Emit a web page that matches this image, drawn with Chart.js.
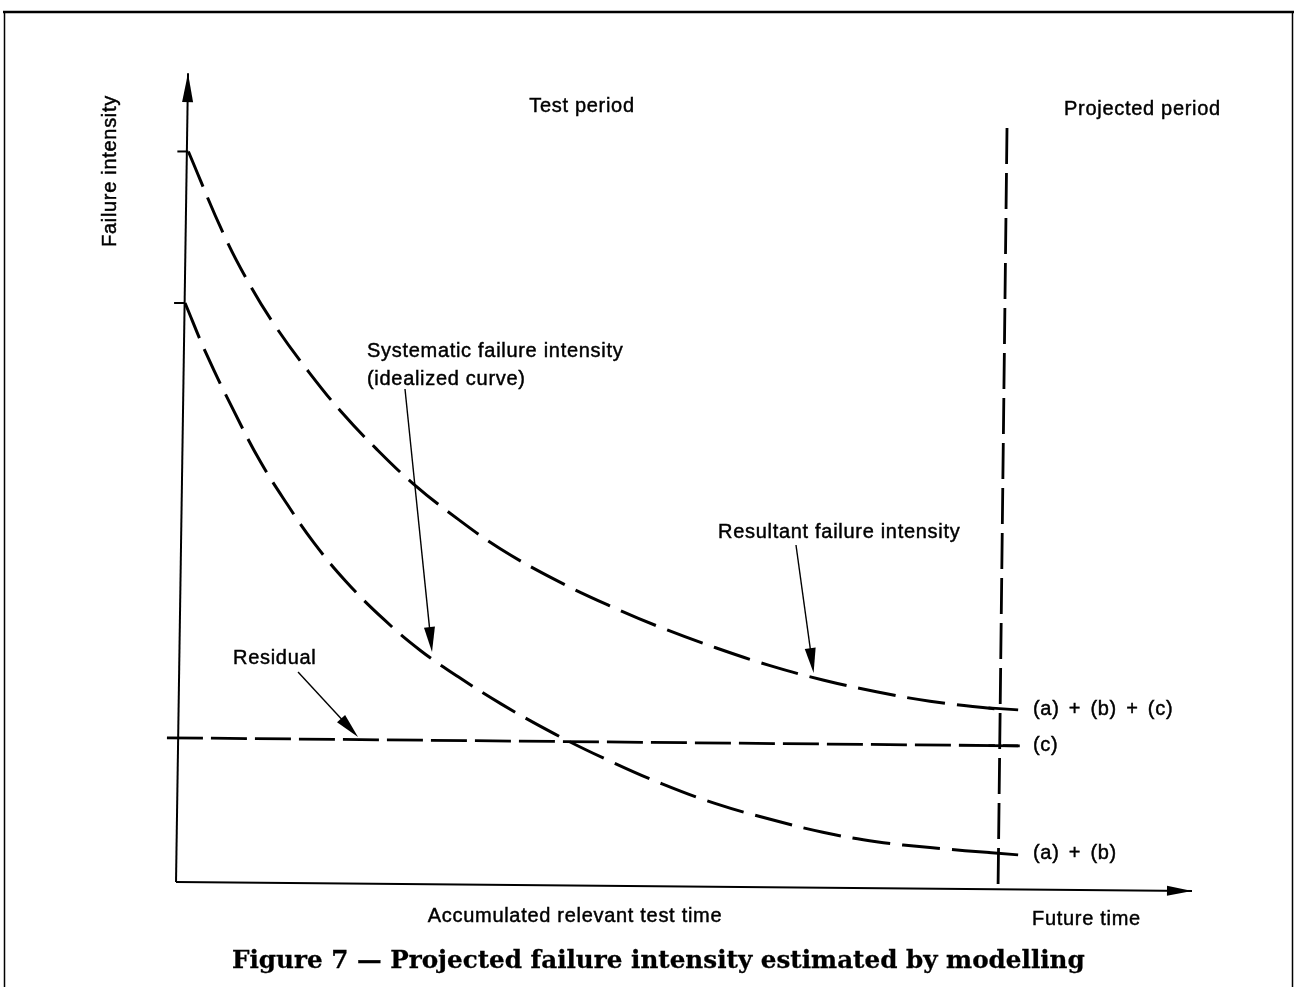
<!DOCTYPE html>
<html><head><meta charset="utf-8">
<script src="https://cdn.jsdelivr.net/npm/chart.js@4.4.1/dist/chart.umd.min.js"></script>
<style>html,body{margin:0;padding:0;background:#fff;overflow:hidden}canvas{display:block}</style>
</head><body>
<canvas id="c" width="1297" height="987"></canvas>
<script>
// ---- data (time units: 0 = start of test, 10 = end of test period; intensity arbitrary units) ----
const resultantTime      = [0.15,0.57,0.89,1.22,1.61,2.00,2.42,2.88,3.43,3.94,4.60,5.25,5.90,6.55,7.20,7.85,8.50,9.15,10.00,10.24];
const resultantIntensity = [9.98,8.87,8.17,7.57,6.97,6.43,5.93,5.44,4.95,4.55,4.13,3.78,3.47,3.20,2.96,2.76,2.60,2.47,2.36,2.35];
const systematicTime      = [0.11,0.37,0.70,1.02,1.35,1.67,2.06,2.52,2.97,3.43,3.95,4.60,5.25,5.90,6.55,7.20,7.85,8.50,9.15,10.00,10.22];
const systematicIntensity = [7.91,7.21,6.44,5.75,5.16,4.64,4.11,3.59,3.16,2.80,2.43,2.02,1.66,1.34,1.07,0.86,0.68,0.55,0.47,0.39,0.37];
const residualTime      = [-0.11, 10.24];
const residualIntensity = [1.97, 1.86];
const projectionTime      = [10.085, 9.976];
const projectionIntensity = [10.30, -0.12];
const yAxisTime = [0, 0.146];
const yAxisIntensity = [0, 11.05];
const xAxisTime = [0, 12.33];
const xAxisIntensity = [0, -0.123];
const endLabels = ['(a) + (b) + (c)', '(c)', '(a) + (b)'];

const pts = (xs, ys) => xs.map((x, i) => ({x, y: ys[i]}));
function interp(xs, ys, x) {
  for (let i = 1; i < xs.length; i++) {
    if (x <= xs[i]) { const t = (x - xs[i-1]) / (xs[i] - xs[i-1]); return ys[i-1] + t * (ys[i] - ys[i-1]); }
  }
  return ys[ys.length - 1];
}

const FONT = '"Liberation Sans", Arial, Helvetica, sans-serif';

const texts = [
  {t: 'Test period', x: 4.927, y: 10.519, align: 'center'},
  {t: 'Projected period', x: 10.777, y: 10.478, align: 'left'},
  {t: 'Systematic failure intensity', x: 2.318, y: 7.172, align: 'left'},
  {t: '(idealized curve)', x: 2.318, y: 6.790, align: 'left'},
  {t: 'Resultant failure intensity', x: 6.578, y: 4.699, align: 'left'},
  {t: 'Residual', x: 0.692, y: 2.978, align: 'left'},
  {t: endLabels[0], x: 10.40, y: 2.281, align: 'left', ws: 3},
  {t: endLabels[1], x: 10.40, y: 1.790, align: 'left', ws: 3},
  {t: endLabels[2], x: 10.40, y: 0.314, align: 'left', ws: 3},
  {t: 'Accumulated relevant test time', x: 4.842, y: -0.546, align: 'center'},
  {t: 'Future time', x: 10.388, y: -0.587, align: 'left'}
];
const callouts = [
  {from: [2.779, 6.735], to: [3.107, 3.142]},
  {from: [7.524, 4.604], to: [7.738, 2.855]},
  {from: [1.481, 2.869], to: [2.209, 1.981]}
];

function arrowHead(ctx, fx, fy, tx, ty, len, hw) {
  const a = Math.atan2(ty - fy, tx - fx);
  const bx = tx - len * Math.cos(a), by = ty - len * Math.sin(a);
  ctx.beginPath();
  ctx.moveTo(tx, ty);
  ctx.lineTo(bx + hw * Math.sin(a), by - hw * Math.cos(a));
  ctx.lineTo(bx - hw * Math.sin(a), by + hw * Math.cos(a));
  ctx.closePath();
  ctx.fill();
}

function drawText(ctx, t, x, y) {
  ctx.fillText(t, x, y);
  ctx.strokeText(t, x, y);
}

const decor = {
  id: 'decor',
  afterDatasetsDraw(chart) {
    const ctx = chart.ctx, sx = chart.scales.x, sy = chart.scales.y;
    const P = (x, y) => [sx.getPixelForValue(x), sy.getPixelForValue(y)];
    ctx.save();
    ctx.fillStyle = '#000'; ctx.strokeStyle = '#000';

    // axis arrowheads
    let a = P(yAxisTime[0], yAxisIntensity[0]), b = P(yAxisTime[1], yAxisIntensity[1]);
    arrowHead(ctx, a[0], a[1], b[0], b[1], 29, 5.5);
    a = P(xAxisTime[0], xAxisIntensity[0]); b = P(xAxisTime[1], xAxisIntensity[1]);
    arrowHead(ctx, a[0], a[1], b[0], b[1], 25, 5);

    // ticks on the intensity axis at curve starts
    ctx.lineWidth = 2;
    [[resultantTime[0], resultantIntensity[0]], [systematicTime[0], systematicIntensity[0]]].forEach(([x, y]) => {
      const p = P(x, y);
      ctx.beginPath(); ctx.moveTo(p[0] - 11, p[1]); ctx.lineTo(p[0], p[1]); ctx.stroke();
    });

    // solid crossing ticks at the projection line
    ctx.lineWidth = 2.8;
    const ends = [[resultantTime, resultantIntensity], [residualTime, residualIntensity], [systematicTime, systematicIntensity]];
    ends.forEach(([xs, ys]) => {
      const x0 = 9.86, x1 = 10.22;
      const p0 = P(x0, interp(xs, ys, x0)), p1 = P(x1, interp(xs, ys, x1));
      ctx.beginPath(); ctx.moveTo(p0[0], p0[1]); ctx.lineTo(p1[0], p1[1]); ctx.stroke();
    });

    // callout arrows
    ctx.lineWidth = 1.4;
    callouts.forEach(c => {
      const f = P(c.from[0], c.from[1]), t = P(c.to[0], c.to[1]);
      const ang = Math.atan2(t[1] - f[1], t[0] - f[0]);
      ctx.beginPath(); ctx.moveTo(f[0], f[1]); ctx.lineTo(t[0] - 20 * Math.cos(ang), t[1] - 20 * Math.sin(ang)); ctx.stroke();
      arrowHead(ctx, f[0], f[1], t[0], t[1], 25, 5.5);
    });

    // texts
    ctx.font = '20px ' + FONT;
    ctx.textBaseline = 'alphabetic';
    ctx.lineWidth = 0.45;
    texts.forEach(o => {
      const p = P(o.x, o.y);
      ctx.letterSpacing = '0.7px';
      ctx.wordSpacing = (o.ws || 0) + 'px';
      ctx.textAlign = o.align;
      drawText(ctx, o.t, p[0], p[1]);
    });
    ctx.wordSpacing = '0px';

    // y axis title (rotated)
    const yt = P(-0.728, 9.713);
    ctx.save();
    ctx.translate(yt[0], yt[1]);
    ctx.rotate(-Math.PI / 2);
    ctx.textAlign = 'center';
    ctx.letterSpacing = '0.7px';
    drawText(ctx, 'Failure intensity', 0, 0);
    ctx.restore();

    // caption
    const cap = 'Figure 7 \u2014 Projected failure intensity estimated by modelling';
    ctx.letterSpacing = '0px';
    ctx.font = 'bold 20px "DejaVu Serif", "Liberation Serif", serif';
    const w20 = ctx.measureText(cap).width;
    const fs = 20 * 853 / w20;
    ctx.font = 'bold ' + fs.toFixed(2) + 'px "DejaVu Serif", "Liberation Serif", serif';
    ctx.textAlign = 'center';
    const cp = P(5.854, -1.175);
    ctx.lineWidth = 0.3;
    drawText(ctx, cap, cp[0], cp[1]);

    // frame
    ctx.lineWidth = 2.5;
    ctx.beginPath(); ctx.moveTo(3, 12); ctx.lineTo(1294, 12); ctx.stroke();
    ctx.lineWidth = 1.5;
    ctx.beginPath(); ctx.moveTo(4.5, 12); ctx.lineTo(4.5, 987); ctx.stroke();
    ctx.beginPath(); ctx.moveTo(1292.5, 12); ctx.lineTo(1292.5, 987); ctx.stroke();
    ctx.restore();
  }
};

const curveStyle = {showLine: true, pointRadius: 0, borderColor: '#000', borderWidth: 3, borderDash: [38, 12], tension: 0.4, clip: false, fill: false};

new Chart(document.getElementById('c'), {
  type: 'scatter',
  data: {
    datasets: [
      Object.assign({label: 'Resultant failure intensity', data: pts(resultantTime, resultantIntensity)}, curveStyle),
      Object.assign({label: 'Systematic failure intensity', data: pts(systematicTime, systematicIntensity)}, curveStyle),
      {label: 'Residual', data: pts(residualTime, residualIntensity), showLine: true, pointRadius: 0, borderColor: '#000', borderWidth: 2.8, borderDash: [36, 8], clip: false},
      {label: 'Projection boundary', data: pts(projectionTime, projectionIntensity), showLine: true, pointRadius: 0, borderColor: '#000', borderWidth: 2.8, borderDash: [36, 9], clip: false},
      {label: 'Intensity axis', data: pts(yAxisTime, yAxisIntensity), showLine: true, pointRadius: 0, borderColor: '#000', borderWidth: 2, clip: false},
      {label: 'Time axis', data: pts(xAxisTime, xAxisIntensity), showLine: true, pointRadius: 0, borderColor: '#000', borderWidth: 2, clip: false}
    ]
  },
  options: {
    responsive: false,
    animation: false,
    devicePixelRatio: 1,
    layout: {padding: {left: 176, right: 297, top: 150, bottom: 105}},
    scales: {
      x: {type: 'linear', min: 0, max: 10, display: false},
      y: {type: 'linear', min: 0, max: 10, display: false}
    },
    plugins: {legend: {display: false}, tooltip: {enabled: false}}
  },
  plugins: [decor]
});
</script>
</body></html>
